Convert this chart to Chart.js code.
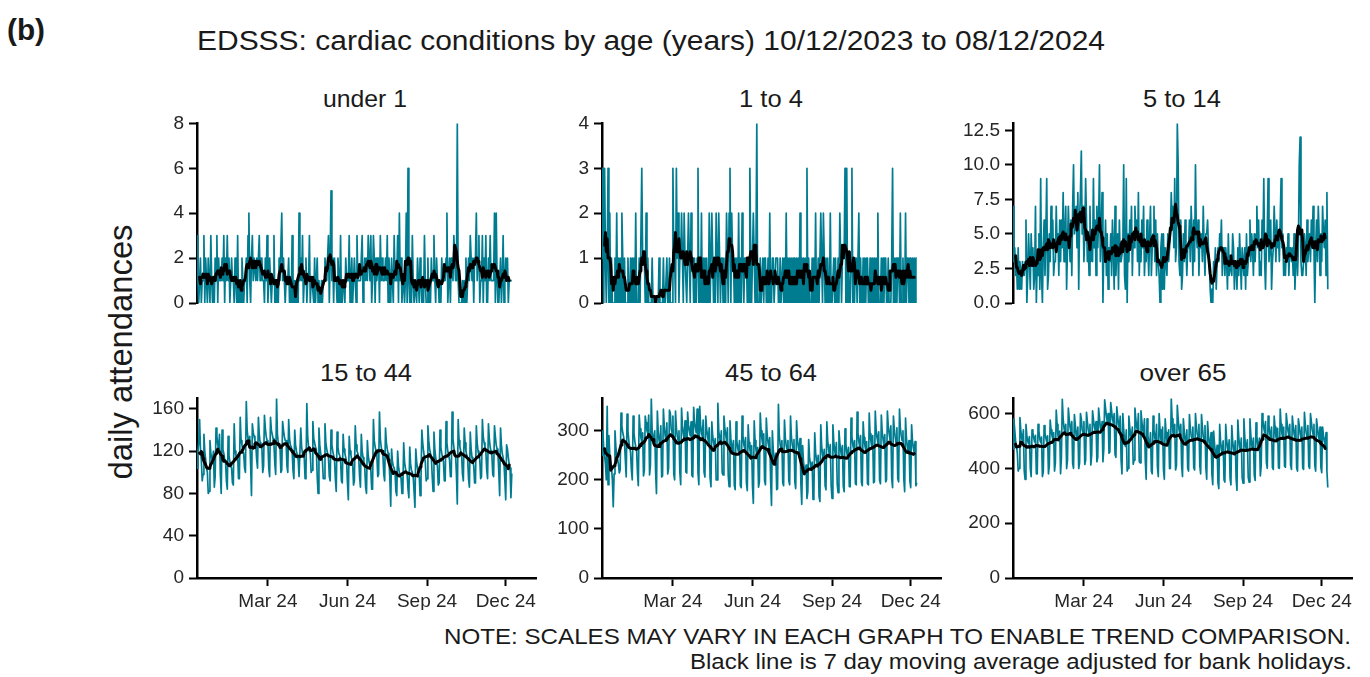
<!DOCTYPE html>
<html>
<head>
<meta charset="utf-8">
<script src="https://cdn.jsdelivr.net/npm/chart.js@4.4.0/dist/chart.umd.min.js"></script>
<style>
  body { margin: 0; background: #fff; width: 1370px; height: 677px; overflow: hidden; position: relative; }
  canvas { position: absolute; }
  svg { position: absolute; left: 0; top: 0; font-family: "Liberation Sans", Arial, sans-serif; fill: #1a1a1a; }
</style>
</head>
<body>
<svg width="1370" height="677">
  <text x="7" y="40" font-size="30" font-weight="bold" textLength="38" lengthAdjust="spacingAndGlyphs">(b)</text>
  <text x="197" y="50" font-size="27" textLength="908" lengthAdjust="spacingAndGlyphs">EDSSS: cardiac conditions by age (years) 10/12/2023 to 08/12/2024</text>
  <text transform="translate(132,352) rotate(-90)" text-anchor="middle" font-size="33" textLength="255" lengthAdjust="spacingAndGlyphs">daily attendances</text>
  <text x="365" y="107" text-anchor="middle" font-size="24" textLength="84" lengthAdjust="spacingAndGlyphs">under 1</text>
  <text x="771" y="107" text-anchor="middle" font-size="24" textLength="64" lengthAdjust="spacingAndGlyphs">1 to 4</text>
  <text x="1182" y="107" text-anchor="middle" font-size="24" textLength="78" lengthAdjust="spacingAndGlyphs">5 to 14</text>
  <text x="366" y="381" text-anchor="middle" font-size="24" textLength="92" lengthAdjust="spacingAndGlyphs">15 to 44</text>
  <text x="771" y="381" text-anchor="middle" font-size="24" textLength="92" lengthAdjust="spacingAndGlyphs">45 to 64</text>
  <text x="1183" y="381" text-anchor="middle" font-size="24" textLength="87" lengthAdjust="spacingAndGlyphs">over 65</text>
  <text x="1351" y="644" text-anchor="end" font-size="22" textLength="907" lengthAdjust="spacingAndGlyphs">NOTE: SCALES MAY VARY IN EACH GRAPH TO ENABLE TREND COMPARISON.</text>
  <text x="1352" y="669" text-anchor="end" font-size="22" textLength="662" lengthAdjust="spacingAndGlyphs">Black line is 7 day moving average adjusted for bank holidays.</text>
</svg>
<canvas id="p0" width="439" height="232"></canvas>
<canvas id="p1" width="439" height="232"></canvas>
<canvas id="p2" width="439" height="232"></canvas>
<canvas id="p3" width="439" height="232"></canvas>
<canvas id="p4" width="439" height="232"></canvas>
<canvas id="p5" width="439" height="232"></canvas>
<script>
// daily counts, day 0 = Sun 10/12/2023 ... day 364 = Sun 08/12/2024
const under1 = [
  3,1,0,1,2,0,1, 1,3,0,2,1,0,2, 1,0,3,1,0,1,0, 2,1,3,0,2,1,1, 1,2,1,3,0,2,1, 3,1,2,0,1,2,1,
  1,0,2,1,0,3,0, 0,1,0,2,1,0,1, 1,2,0,3,4,1,0, 2,3,1,2,2,1,2, 1,2,3,1,2,2,1, 1,0,2,1,3,0,1,
  2,1,0,1,1,3,0, 1,0,1,0,2,1,1, 4,1,2,1,0,1,1, 1,2,0,1,0,3,0, 0,1,0,1,0,0,4, 1,2,1,3,0,1,1,
  2,0,1,1,3,0,1, 1,1,0,2,0,1,2, 0,1,0,0,1,0,1, 1,2,1,1,2,3,0, 2,5,1,2,0,2,1, 1,0,2,1,0,3,0,
  0,1,1,0,2,1,1, 1,3,0,1,2,0,1, 2,1,0,3,1,1,1, 1,2,3,0,1,2,1, 2,1,3,2,1,3,0, 1,3,2,0,2,1,2,
  2,0,3,1,2,1,1, 1,2,1,3,0,2,1, 0,2,1,0,3,1,1, 1,3,0,4,1,2,0, 1,1,0,1,4,0,6, 1,0,2,0,3,1,0,
  0,1,0,2,1,0,2, 1,0,1,0,3,1,0, 0,2,0,1,0,2,1, 1,3,1,0,2,1,1, 0,1,0,2,1,1,1, 1,2,4,0,1,2,0,
  2,2,1,3,2,1,1, 8,1,0,0,0,0,1, 0,1,0,2,0,1,2, 1,3,2,1,2,0,2, 2,4,1,2,3,0,1, 1,3,0,2,1,3,0,
  0,2,1,3,1,1,1, 1,4,0,4,1,0,0, 1,2,0,1,3,0,1, 2,1,2,0,1,1,1, 1
];
const age1to4 = [
  1,3,0,3,1,0,1, 3,0,2,0,1,0,0, 0,1,0,2,0,1,0, 1,0,2,1,0,1,0, 0,0,1,0,0,1,0, 1,0,1,0,2,0,0,
  0,1,0,0,3,1,1, 1,0,2,0,1,0,0, 0,0,1,0,0,0,0, 0,0,0,1,0,0,0, 0,1,0,0,0,1,0, 0,1,0,0,0,3,1,
  1,0,3,1,2,0,1, 1,2,1,0,2,1,1, 0,1,2,1,0,2,1, 1,0,1,0,0,1,3, 0,1,0,2,0,1,0, 1,0,1,0,0,2,0,
  0,2,1,0,1,0,2, 1,0,2,1,0,1,1, 0,1,0,0,2,1,0, 2,3,0,2,1,1,0, 1,0,1,0,2,0,1, 0,2,1,0,1,1,1,
  0,1,0,3,1,0,1, 2,1,0,1,4,0,0, 0,1,0,0,1,0,1, 1,0,0,1,0,2,0, 0,1,1,0,0,1,1, 1,0,0,1,0,0,1,
  0,1,0,2,0,1,0, 1,0,1,0,1,0,1, 0,1,0,1,0,2,0, 1,0,1,0,1,0,3, 0,1,0,0,0,1,0, 1,0,2,0,0,1,0,
  0,2,1,0,2,1,0, 1,0,1,0,0,2,0, 0,0,1,0,1,0,0, 1,0,2,1,0,1,1, 1,3,0,3,0,1,0, 0,1,3,0,1,0,1,
  1,0,0,2,0,1,0, 0,1,0,1,0,1,1, 0,0,1,0,0,1,0, 1,0,1,0,2,0,0, 0,1,0,1,0,1,1, 0,0,1,0,0,0,1,
  3,0,1,0,1,0,1, 1,0,2,0,0,1,0, 0,2,0,1,1,0,1, 1,0,1,0,1,0,1, 1
];
const age5to14 = [
  7,3,4,2,3,1,4, 1,3,2,1,3,2,2, 3,6,0,2,5,3,1, 5,3,4,1,2,7,0, 3,2,5,1,9,2,0, 4,6,2,5,9,1,2,
  5,3,7,4,6,2,3, 3,7,4,5,2,6,3, 6,4,8,3,5,7,1, 4,7,5,3,6,2,7, 10,5,6,7,4,8,1, 6,8,11,5,7,3,5,
  9,6,3,4,2,7,3, 5,3,9,4,6,2,7, 4,6,10,3,5,8,0, 4,3,6,2,5,1,4, 3,5,2,6,4,1,7, 2,4,5,1,6,3,3,
  3,4,10,2,1,9,0, 5,3,6,4,7,2,5, 4,7,5,6,3,8,2, 5,3,6,4,7,2,4, 3,6,4,2,5,7,2, 4,5,7,3,6,2,5,
  3,2,0,4,5,1,5, 1,4,3,2,5,3,4, 5,8,6,7,4,9,3, 4,13,10,3,2,6,1, 2,5,3,6,4,2,4, 4,6,3,7,5,2,6,
  3,10,5,4,6,2,5, 4,5,3,7,4,2,5, 5,6,4,3,1,0,1, 0,3,2,4,1,3,4, 3,5,4,6,2,4,4, 2,4,3,1,5,2,3,
  3,2,5,4,1,3,3, 1,4,2,5,3,1,4, 3,2,4,1,5,2,3, 4,6,3,5,4,2,5, 3,5,7,4,6,2,3, 2,6,4,9,3,1,4,
  5,9,3,4,6,1,3, 4,7,5,3,6,4,5, 3,6,9,4,5,2,3, 2,4,3,5,2,4,4, 3,4,2,5,1,3,5, 2,4,10,12,3,2,2,
  3,5,4,2,6,3,4, 5,3,6,4,7,4,0, 4,6,3,7,5,2,5, 3,7,5,4,6,2,8, 1
];
const age15to44 = [
  104,120,128,150,122,112,92, 98,136,120,112,104,100,80, 82,130,118,114,110,120,86, 96,142,134,126,122,136,98,
  80,140,122,118,112,110,92, 84,134,116,110,106,104,90, 88,146,120,116,112,116,94, 94,152,130,126,120,118,104,
  100,167,140,132,128,134,108, 78,146,138,134,130,126,112, 104,152,136,128,126,124,100, 106,154,142,134,130,128,104,
  96,152,140,136,132,126,108, 98,170,136,128,126,124,100, 102,148,140,134,130,130,106, 100,150,132,126,124,120,102,
  94,140,126,120,116,112,96, 96,142,124,118,118,114,94, 98,165,134,124,120,118,100, 102,148,132,128,124,122,96,
  80,142,126,118,114,112,94, 94,146,128,122,118,114,96, 92,140,126,120,116,112,94, 82,138,124,118,116,112,92,
  90,136,122,118,114,110,90, 74,134,120,116,112,108,88, 92,144,126,120,118,114,96, 86,136,120,114,110,104,86,
  80,130,116,110,106,102,84, 84,150,130,124,120,116,96, 98,157,132,124,120,116,98, 92,142,128,122,118,112,94,
  68,122,110,106,104,100,82, 78,120,106,100,98,94,80, 80,128,110,104,100,98,84, 76,124,108,102,100,96,82,
  67,122,110,104,98,96,78, 92,140,128,120,114,110,92, 94,144,130,122,118,114,96, 82,138,122,114,110,106,88,
  90,140,124,118,114,110,92, 92,148,128,120,116,112,96, 96,157,132,124,118,116,98, 70,150,130,124,120,116,98,
  92,142,128,120,116,112,94, 86,138,122,114,110,106,90, 90,144,128,120,116,112,94, 96,150,134,128,124,120,102,
  94,146,132,124,120,116,98, 96,144,134,126,122,118,100, 78,142,126,118,114,108,92, 74,126,122,114,108,104,76,
  99
];
const age45to64 = [
  250,300,262,250,232,200,350, 190,290,250,236,226,200,145, 212,300,268,250,244,232,214, 220,336,310,296,288,276,240,
  206,334,300,280,266,256,220, 200,330,296,278,268,262,214, 188,332,304,286,276,296,208, 220,330,316,300,294,332,210,
  230,366,300,286,276,300,216, 172,340,298,280,270,310,206, 208,344,310,290,280,316,212, 224,342,336,304,296,330,212,
  200,340,306,290,280,300,216, 190,346,310,294,284,320,216, 214,338,312,300,290,318,209, 206,348,316,306,296,344,214,
  190,350,312,296,288,322,216, 206,330,304,290,278,306,204, 186,318,290,276,266,284,200, 200,356,300,286,276,300,214,
  210,330,306,292,280,306,208, 186,320,284,268,258,280,189, 180,318,278,264,256,280,188, 184,330,290,272,264,286,194,
  178,312,276,262,250,270,188, 152,320,280,262,250,266,185, 196,336,300,282,270,294,198, 190,326,292,276,266,286,198,
  148,300,262,244,236,254,180, 182,354,290,272,262,280,194, 188,322,286,270,262,280,198, 190,330,288,272,262,282,196,
  182,320,282,268,258,284,191, 150,270,236,222,214,230,162, 176,282,246,232,222,236,160, 170,296,256,240,232,250,166,
  156,312,270,252,240,262,188, 180,318,280,262,250,272,188, 162,312,278,260,250,276,191, 174,300,276,260,248,270,187,
  176,304,274,256,246,266,186, 186,326,288,272,262,280,192, 190,338,296,278,268,290,195, 188,318,286,270,260,278,192,
  190,336,294,278,266,290,194, 196,340,302,286,276,298,199, 192,332,298,282,270,292,196, 200,340,310,294,282,310,203,
  184,330,304,288,276,306,202, 196,344,306,290,280,300,202, 176,326,286,268,258,280,198, 184,312,280,266,256,278,188,
  194
];
const over65 = [
  470,580,540,500,480,456,390, 400,585,540,510,500,540,390, 360,560,520,500,490,516,400, 370,540,530,510,496,520,380,
  380,560,536,506,494,514,370, 386,556,528,510,496,518,380, 410,576,540,520,506,530,390, 420,612,560,520,500,536,380,
  440,652,580,546,530,560,399, 430,620,580,550,530,570,416, 400,596,560,520,510,550,399, 420,600,580,540,530,570,414,
  430,604,570,540,524,560,412, 450,610,580,550,540,570,424, 440,620,584,550,536,570,424, 470,650,620,590,570,600,455,
  460,640,610,580,566,600,450, 440,624,590,560,546,590,430, 380,600,540,500,480,540,390, 400,590,550,520,510,550,415,
  430,620,580,550,540,600,425, 420,610,570,540,530,580,425, 360,580,520,490,476,530,390, 380,590,540,510,500,560,406,
  370,600,540,506,490,550,395, 360,580,530,500,486,540,399, 400,655,580,530,516,560,394, 410,630,580,540,524,560,410,
  370,580,536,500,490,540,400, 390,596,550,520,506,550,402, 394,600,556,526,510,560,410, 380,596,550,516,500,556,402,
  360,570,520,490,476,530,379, 340,536,490,456,440,484,348, 326,560,500,470,450,500,358, 350,560,506,476,460,504,364,
  340,556,500,470,456,500,363, 320,576,516,480,466,510,366, 346,580,514,480,464,504,367, 350,580,520,486,470,510,374,
  356,566,516,486,470,510,372, 410,600,576,546,530,570,422, 400,590,556,526,510,550,403, 396,590,550,516,500,546,402,
  400,616,560,526,510,550,408, 404,600,566,536,520,560,412, 396,590,556,526,510,556,401, 390,580,556,526,510,550,402,
  396,604,560,530,516,556,408, 400,600,570,540,524,560,411, 390,580,550,520,506,550,404, 384,550,520,500,486,530,390,
  330
];

const panelTitles = ['under 1', '1 to 4', '5 to 14', '15 to 44', '45 to 64', 'over 65'];
const yTickValues = [
  [0, 2, 4, 6, 8],
  [0, 1, 2, 3, 4],
  [0, 2.5, 5, 7.5, 10, 12.5],
  [0, 40, 80, 120, 160],
  [0, 100, 200, 300],
  [0, 200, 400, 600]
];
const monthDays = [82, 174, 266, 357];   // 1 Mar, 1 Jun, 1 Sep, 1 Dec 2024
const monthLabels = ['Mar 24', 'Jun 24', 'Sep 24', 'Dec 24'];

const TEAL = '#007C91';
const FONT = '"Liberation Sans", Arial, sans-serif';

// 7 day centred moving average (the black line)
function movingAvg(arr) {
  return arr.map((_, i) => {
    if (i < 3 || i > arr.length - 4) return null;
    let s = 0;
    for (let k = i - 3; k <= i + 3; k++) s += arr[k];
    return s / 7;
  });
}

const colX = [197, 602, 1013];
const rowTop = [123, 398];
const PLOT_H = 180;
const series = [under1, age1to4, age5to14, age15to44, age45to64, over65];

series.forEach((values, p) => {
  const col = p % 3, row = Math.floor(p / 3);
  const showX = row === 1;
  const canvas = document.getElementById('p' + p);
  canvas.style.left = (colX[col] - 75) + 'px';
  const ticksY = yTickValues[p];
  const digits = ticksY.some(v => v % 1 !== 0) ? 1 : 0;
  const ma = movingAvg(values);

  const chart = new Chart(canvas, {
    type: 'line',
    data: {
      datasets: [{
        data: ma.map((v, i) => ({ x: i, y: v })),
        borderColor: '#000',
        borderWidth: 3,
        pointRadius: 0,
        borderJoinStyle: 'round',
        borderCapStyle: 'round',
        spanGaps: false
      }, {
        data: values.map((v, i) => ({ x: i, y: v })),
        borderColor: TEAL,
        borderWidth: 1.7,
        pointRadius: 0,
        borderJoinStyle: 'round'
      }]
    },
    options: {
      responsive: false,
      maintainAspectRatio: false,
      animation: false,
      devicePixelRatio: 1,
      layout: { padding: { left: 0, top: 12, right: 25, bottom: showX ? 8 : 40 } },
      plugins: { legend: { display: false }, tooltip: { enabled: false } },
      scales: {
        x: {
          type: 'linear',
          min: 0,
          max: 392,
          display: showX,
          afterBuildTicks: s => { s.ticks = monthDays.map(v => ({ value: v })); },
          afterFit: s => { s.height = showX ? 32 : 0; },
          grid: { display: true, drawOnChartArea: false, drawTicks: true, tickLength: 8, tickColor: '#000', tickWidth: 2 },
          border: { display: true, color: '#000', width: 2.5 },
          ticks: {
            autoSkip: false, maxRotation: 0, padding: 4, color: '#262626',
            font: { family: FONT, size: 19 },
            callback: v => monthLabels[monthDays.indexOf(v)]
          }
        },
        y: {
          min: 0,
          max: Math.max(...values),
          afterBuildTicks: s => { s.ticks = ticksY.map(v => ({ value: v })); },
          afterFit: s => { s.width = 75; },
          grid: { display: true, drawOnChartArea: false, drawTicks: true, tickLength: 8, tickColor: '#000', tickWidth: 2 },
          border: { display: true, color: '#000', width: 2.5 },
          ticks: {
            padding: 5, color: '#262626',
            font: { family: FONT, size: 19 },
            callback: v => v.toFixed(digits)
          }
        }
      }
    }
  });

  // make every panel's plot area exactly PLOT_H tall and line it up with its row
  let a = chart.chartArea;
  const extra = Math.round(PLOT_H - (a.bottom - a.top));
  if (extra !== 0) {
    chart.resize(439, 232 + extra);
    a = chart.chartArea;
  }
  canvas.style.top = Math.round(rowTop[row] - a.top) + 'px';
});
</script>
</body>
</html>
